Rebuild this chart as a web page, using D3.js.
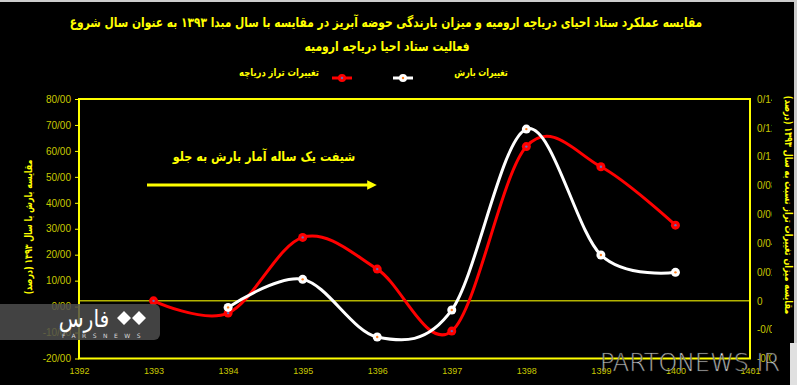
<!DOCTYPE html>
<html>
<head>
<meta charset="utf-8">
<script src="https://cdn.jsdelivr.net/npm/d3@7"></script>
<style>
  body { margin: 0; background: #000; }
  svg { display: block; }
</style>
</head>
<body>
<svg width="797" height="385"></svg>
<script>
// data
var yearTicks = [1392, 1393, 1394, 1395, 1396, 1397, 1398, 1399, 1400, 1401];
var lakeYears = [1393, 1394, 1395, 1396, 1397, 1398, 1399, 1400];
var lakeChange = [0, -0.0085, 0.044, 0.022, -0.021, 0.107, 0.093, 0.0525];
var rainYears = [1394, 1395, 1396, 1397, 1398, 1399, 1400];
var rainChange = [-0.3, 10.5, -11.7, -1.3, 68.4, 19.9, 13.2];
var leftTicks = [80, 70, 60, 50, 40, 30, 20, 10, 0, -10, -20];
var rightTicks = [0.14, 0.12, 0.1, 0.08, 0.06, 0.04, 0.02, 0, -0.02, -0.04];

var titleLines = [
  "مقایسه عملکرد ستاد احیای دریاچه ارومیه و میزان بارندگی حوضه آبریز در مقایسه با سال مبدا ۱۳۹۳ به عنوان سال شروع",
  "فعالیت ستاد احیا دریاچه ارومیه"
];
var rainLabel = "تغییرات بارش";
var lakeLabel = "تغییرات تراز دریاچه";
var leftTitle = "مقایسه بارش با سال ۱۳۹۳ (درصد)";
var rightTitle = "مقایسه میزان تغییرات تراز نسبت به سال ۱۳۹۳ (درصد)";
var noteText = "شیفت یک ساله آمار بارش به جلو";

var svg = d3.select("svg");
var persian = "'DejaVu Sans', sans-serif";
var yellow = "#ffff00", dimYellow = "#c8c800";

var plotLeft = 79, plotRight = 750, plotTop = 99, plotBottom = 358.5;

var x = d3.scaleLinear().domain([1392, 1401]).range([plotLeft, plotRight]);
var yL = d3.scaleLinear().domain([-20, 80]).range([plotBottom, plotTop]);
var yR = d3.scaleLinear().domain([-0.04, 0.14]).range([plotBottom, plotTop]);

svg.append("rect").attr("width", 797).attr("height", 385).attr("fill", "#000");

// persian text, squeezed sideways so the wide fallback font fits
function persianText(g, str, tx, ty, size, sx, rot) {
  return g.append("text")
    .attr("transform", "translate(" + tx + "," + ty + ")" + (rot ? " rotate(" + rot + ")" : "") + " scale(" + sx + ",1)")
    .attr("text-anchor", "middle")
    .attr("fill", yellow)
    .style("font-family", persian).style("font-weight", "bold").style("font-size", size + "px")
    .text(str);
}

// zero line of the right axis
svg.append("line")
  .attr("x1", plotLeft).attr("x2", plotRight)
  .attr("y1", yR(0)).attr("y2", yR(0))
  .attr("stroke", "#b4b400").attr("stroke-width", 1.5);

// frame
svg.append("rect")
  .attr("x", plotLeft).attr("y", plotTop)
  .attr("width", plotRight - plotLeft).attr("height", plotBottom - plotTop)
  .attr("fill", "none").attr("stroke", yellow).attr("stroke-width", 2);

// left axis
var leftAxis = svg.append("g")
  .attr("transform", "translate(" + plotLeft + ",0)")
  .call(d3.axisLeft(yL).tickValues(leftTicks).tickSize(4).tickPadding(4)
    .tickFormat(function(d) { return d3.format(".2f")(d).replace(".", "/").replace("−", "-"); }));
leftAxis.select(".domain").remove();
leftAxis.selectAll("line").attr("stroke", yellow);
leftAxis.selectAll("text").attr("fill", dimYellow)
  .style("font-family", "'Liberation Sans', sans-serif").style("font-size", "10px");

// right axis, labels clipped like the original
svg.append("clipPath").attr("id", "rclip")
  .append("rect").attr("x", 0).attr("y", 80).attr("width", 22).attr("height", 300);
var rightAxis = svg.append("g")
  .attr("transform", "translate(" + plotRight + ",0)")
  .attr("clip-path", "url(#rclip)")
  .call(d3.axisRight(yR).tickValues(rightTicks).tickSize(0).tickPadding(7)
    .tickFormat(function(d) { return d3.format("~g")(d).replace("0.", "0/").replace("−", "-"); }));
rightAxis.select(".domain").remove();
rightAxis.selectAll("text").attr("fill", dimYellow)
  .style("font-family", "'Liberation Sans', sans-serif").style("font-size", "10px");

// bottom axis
var bottomAxis = svg.append("g")
  .attr("transform", "translate(0," + plotBottom + ")")
  .call(d3.axisBottom(x).tickValues(yearTicks).tickSize(0).tickPadding(9)
    .tickFormat(d3.format("d")));
bottomAxis.select(".domain").remove();
bottomAxis.selectAll("text").attr("fill", dimYellow)
  .style("font-family", "'Liberation Sans', sans-serif").style("font-size", "9px");

// lines
var lakeData = lakeYears.map(function(d, i) { return {year: d, value: lakeChange[i]}; });
var rainData = rainYears.map(function(d, i) { return {year: d, value: rainChange[i]}; });

var lakeLine = d3.line()
  .x(function(d) { return x(d.year); })
  .y(function(d) { return yR(d.value); })
  .curve(d3.curveCardinal.tension(0));
var rainLine = d3.line()
  .x(function(d) { return x(d.year); })
  .y(function(d) { return yL(d.value); })
  .curve(d3.curveCardinal.tension(0));

svg.append("path").datum(lakeData)
  .attr("d", lakeLine).attr("fill", "none")
  .attr("stroke", "#ff0000").attr("stroke-width", 3);
svg.append("path").datum(rainData)
  .attr("d", rainLine).attr("fill", "none")
  .attr("stroke", "#ffffff").attr("stroke-width", 3);

var lakeDots = svg.append("g").selectAll("g").data(lakeData).enter().append("g")
  .attr("transform", function(d) { return "translate(" + x(d.year) + "," + yR(d.value) + ")"; });
lakeDots.append("circle").attr("r", 4.5).attr("fill", "#ff0000");
lakeDots.append("circle").attr("r", 1.2).attr("fill", "#6070c0");

var rainDots = svg.append("g").selectAll("g").data(rainData).enter().append("g")
  .attr("transform", function(d) { return "translate(" + x(d.year) + "," + yL(d.value) + ")"; });
rainDots.append("circle").attr("r", 4.5).attr("fill", "#ffffff");
rainDots.append("circle").attr("r", 1.2).attr("fill", "#ff8020");

// title
persianText(svg, titleLines[0], 386, 27, 13.5, 0.79);
persianText(svg, titleLines[1], 387, 51, 13.5, 0.8);

// legend
var legend = svg.append("g");
persianText(legend, lakeLabel, 279, 76, 10.5, 0.8);
legend.append("line").attr("x1", 332).attr("x2", 352).attr("y1", 78).attr("y2", 78)
  .attr("stroke", "#ff0000").attr("stroke-width", 3);
legend.append("circle").attr("cx", 342).attr("cy", 78).attr("r", 4).attr("fill", "#ff0000");
legend.append("circle").attr("cx", 342).attr("cy", 78).attr("r", 1.2).attr("fill", "#6070c0");
legend.append("line").attr("x1", 393).attr("x2", 413).attr("y1", 78).attr("y2", 78)
  .attr("stroke", "#ffffff").attr("stroke-width", 3);
legend.append("circle").attr("cx", 403).attr("cy", 78).attr("r", 4).attr("fill", "#ffffff");
legend.append("circle").attr("cx", 403).attr("cy", 78).attr("r", 1.2).attr("fill", "#ff8020");
persianText(legend, rainLabel, 481, 76, 10.5, 0.75);

// axis titles
persianText(svg, leftTitle, 32, 227, 10.5, 0.75, -90);
persianText(svg, rightTitle, 785, 205, 10.5, 0.77, 90);

// annotation and arrow
svg.append("defs").append("marker")
  .attr("id", "arrow").attr("viewBox", "0 0 10 10")
  .attr("refX", 5).attr("refY", 5)
  .attr("markerWidth", 3.2).attr("markerHeight", 3.2).attr("orient", "auto")
  .append("path").attr("d", "M0,0L10,5L0,10z").attr("fill", yellow);
persianText(svg, noteText, 264, 161, 13, 0.86);
svg.append("line").attr("x1", 147).attr("x2", 372).attr("y1", 185).attr("y2", 185)
  .attr("stroke", yellow).attr("stroke-width", 3).attr("marker-end", "url(#arrow)");

// watermarks
var fars = svg.append("g");
fars.append("rect").attr("x", -8).attr("y", 304).attr("width", 168).attr("height", 36).attr("rx", 6)
  .attr("fill", "#4e4e4e").attr("opacity", 0.85);
fars.append("text").attr("x", 84).attr("y", 327).attr("text-anchor", "middle")
  .attr("transform", "translate(84,0) scale(0.85,1) translate(-84,0)")
  .attr("fill", "#ffffff").style("font-family", persian).style("font-size", "24px").text("فارس");
fars.append("path").attr("d", "M117,318l7,-7l7,7l-7,7z M132,318l7,-7l7,7l-7,7z").attr("fill", "#ffffff");
fars.append("text").attr("x", 62).attr("y", 338).attr("fill", "#dddddd")
  .style("font-family", "'DejaVu Sans', sans-serif").style("font-size", "6px")
  .attr("letter-spacing", "6.5").text("FARSNEWS");

svg.append("rect").attr("x", 790).attr("y", 343).attr("width", 7).attr("height", 42).attr("fill", "#e0e0e0");
svg.append("text").attr("x", 600).attr("y", 371)
  .attr("textLength", 180).attr("lengthAdjust", "spacingAndGlyphs")
  .attr("fill", "#ffffff").attr("stroke", "#222").attr("stroke-width", 0.5)
  .style("font-family", "'DejaVu Sans', sans-serif").style("font-size", "24px").style("font-weight", "300")
  .text("PARTONEWS.IR");

// thin page borders
svg.append("rect").attr("x", 0).attr("y", 0).attr("width", 797).attr("height", 2).attr("fill", "#cccccc");
svg.append("rect").attr("x", 794).attr("y", 0).attr("width", 3).attr("height", 343).attr("fill", "#cccccc");
</script>
</body>
</html>
